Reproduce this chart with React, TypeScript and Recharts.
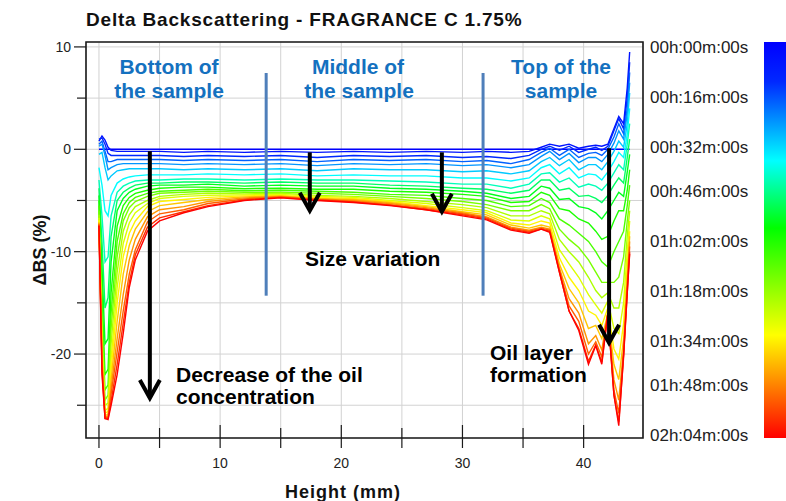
import { LineChart, Line, XAxis, YAxis, CartesianGrid, ReferenceLine, ReferenceArea } from 'recharts';

// sample height (mm) at which every profile is read
const heights = [
  0, 0.25, 0.5, 0.75, 1, 1.5, 2, 2.5, 3, 4,
  5, 7, 9, 12, 15, 18, 21, 24, 27, 30, 32, 34,
  35.5, 36.5, 37.2, 38, 38.8, 39.6, 40.4, 41, 41.5, 42, 42.5, 42.9, 43.3, 43.6, 43.8,
];

// delta backscattering (%) profiles, one per scan time
const t00 = [
  0, 0, 0, 0, 0, 0, 0, 0, 0, 0,
  0, 0, 0, 0, 0, 0, 0, 0, 0, 0, 0, 0,
  0, 0, 0, 0, 0, 0, 0, 0, 0, 0, 0, 0, 0, 0, 0,
];
const t06 = [
  0.8, 1.3, 0.9, 0.2, -0.1, -0.2, -0.2, -0.2, -0.2, -0.2,
  -0.2, -0.3, -0.2, -0.3, -0.2, -0.3, -0.2, -0.3, -0.2, -0.3, -0.2, -0.3,
  -0.2, 0.2, 0.5, 0.3, 0.5, 0.1, 0.3, 0.4, 0.3, 0.5, 2.0, 3.2, 2.5, 6.0, 9.5,
];
const t12 = [
  1.0, 1.1, 0.5, -0.4, -0.6, -0.6, -0.6, -0.6, -0.6, -0.6,
  -0.6, -0.7, -0.6, -0.7, -0.6, -0.8, -0.6, -0.7, -0.6, -0.8, -0.7, -0.9,
  -0.6, 0.0, 0.3, -0.1, 0.3, -0.3, 0.0, 0.2, -0.1, 0.3, 1.8, 3.0, 2.0, 5.0, 8.5,
];
const t19 = [
  0.5, 0.8, -0.2, -1.2, -1.2, -1.0, -1.0, -1.0, -1.0, -1.0,
  -1.0, -1.1, -1.0, -1.1, -1.0, -1.2, -1.0, -1.1, -1.0, -1.2, -1.1, -1.4,
  -1.0, -0.3, 0.1, -0.6, 0.0, -0.8, -0.4, -0.3, -0.6, 0.0, 1.2, 2.5, 1.5, 4.0, 7.5,
];
const t25 = [
  0.3, 0.5, -0.6, -2.0, -1.8, -1.5, -1.4, -1.4, -1.4, -1.4,
  -1.4, -1.5, -1.4, -1.5, -1.4, -1.6, -1.4, -1.5, -1.4, -1.6, -1.5, -1.8,
  -1.5, -0.7, -0.2, -1.0, -0.4, -1.3, -0.8, -0.8, -1.2, -0.5, 0.6, 1.8, 1.0, 3.5, 6.5,
];
const t31 = [
  -0.5, -0.3, -1.8, -3.0, -2.6, -2.1, -2.0, -1.9, -1.9, -1.9,
  -1.9, -2.0, -1.9, -2.0, -1.9, -2.1, -1.9, -2.0, -2.0, -2.2, -2.1, -2.4,
  -2.1, -1.2, -0.8, -1.6, -1.0, -2.0, -1.5, -1.5, -2.0, -1.2, -0.2, 0.8, 0.2, 2.5, 5.5,
];
const t37 = [
  -1.8, -3.5, -6.0, -6.5, -4.5, -3.3, -2.9, -2.7, -2.6, -2.5,
  -2.5, -2.5, -2.4, -2.5, -2.4, -2.6, -2.5, -2.6, -2.6, -2.8, -2.8, -3.1,
  -2.8, -1.8, -1.5, -2.4, -1.8, -2.8, -2.4, -2.5, -3.0, -2.2, -1.2, -0.3, -0.8, 1.5, 4.0,
];
const t43 = [
  -3.0, -6.5, -11.0, -10.5, -6.5, -4.2, -3.6, -3.3, -3.1, -3.0,
  -3.0, -2.9, -2.9, -3.0, -2.9, -3.0, -3.0, -3.1, -3.2, -3.4, -3.4, -3.8,
  -3.4, -2.4, -2.3, -3.2, -2.8, -3.7, -3.4, -3.6, -4.0, -3.3, -2.3, -1.5, -2.0, 0.5, 2.5,
];
const t50 = [
  -3.8, -9.0, -15.5, -14.5, -8.5, -5.0, -4.2, -3.8, -3.5, -3.3,
  -3.3, -3.2, -3.2, -3.3, -3.2, -3.3, -3.3, -3.5, -3.6, -3.8, -3.9, -4.3,
  -4.0, -3.0, -3.0, -4.0, -3.8, -4.6, -4.5, -4.8, -5.2, -4.5, -3.5, -2.8, -3.3, -0.8, 1.0,
];
const t56 = [
  -4.5, -11.5, -19.0, -18.5, -11.0, -6.0, -4.8, -4.2, -3.9, -3.6,
  -3.5, -3.5, -3.4, -3.6, -3.5, -3.6, -3.6, -3.8, -3.9, -4.1, -4.3, -4.8,
  -4.6, -3.6, -3.8, -4.9, -4.8, -5.6, -5.8, -6.2, -6.8, -6.0, -5.0, -4.2, -4.6, -2.2, -0.5,
];
const t62 = [
  -5.0, -14.0, -22.0, -21.5, -14.0, -7.5, -5.5, -4.7, -4.3, -4.0,
  -3.8, -3.7, -3.7, -3.85, -3.8, -3.9, -3.9, -4.1, -4.2, -4.4, -4.6, -5.2,
  -5.1, -4.2, -4.5, -5.8, -6.0, -6.8, -7.2, -8.0, -8.8, -8.5, -7.0, -6.0, -6.0, -4.0, -2.0,
];
const t68 = [
  -5.5, -16.0, -23.5, -23.0, -16.0, -9.0, -6.3, -5.2, -4.7, -4.3,
  -4.1, -4.0, -3.9, -4.05, -4.0, -4.1, -4.2, -4.4, -4.5, -4.8, -5.0, -5.6,
  -5.5, -4.8, -5.2, -6.8, -7.4, -8.2, -9.0, -10.0, -11.0, -11.5, -10.0, -9.0, -8.0, -5.5, -3.5,
];
const t74 = [
  -6.0, -17.5, -24.5, -24.0, -17.5, -10.5, -7.0, -5.7, -5.1, -4.6,
  -4.3, -4.2, -4.1, -4.2, -4.2, -4.3, -4.4, -4.6, -4.8, -5.1, -5.4, -6.0,
  -6.0, -5.4, -5.8, -7.8, -8.8, -9.6, -10.8, -12.0, -13.0, -13.0, -13.0, -12.5, -10.5, -7.0, -5.0,
];
const t81 = [
  -6.4, -18.5, -25.0, -24.8, -19.0, -12.0, -8.0, -6.4, -5.6, -5.0,
  -4.6, -4.4, -4.3, -4.35, -4.3, -4.5, -4.6, -4.8, -5.1, -5.4, -5.7, -6.5,
  -6.5, -6.0, -6.3, -8.8, -10.0, -11.0, -12.5, -13.8, -14.5, -14.0, -15.5, -15.5, -13.0, -8.5, -6.0,
];
const t87 = [
  -6.7, -19.0, -25.5, -25.3, -20.5, -13.5, -9.2, -7.2, -6.2, -5.3,
  -4.8, -4.6, -4.5, -4.45, -4.4, -4.6, -4.7, -5.0, -5.3, -5.7, -6.0, -6.9,
  -7.0, -6.5, -6.8, -9.8, -11.2, -12.5, -14.2, -15.2, -16.0, -14.8, -17.5, -18.0, -15.0, -10.0, -7.0,
];
const t93 = [
  -6.9, -19.5, -25.8, -25.6, -21.5, -15.0, -10.5, -8.2, -7.0, -5.6,
  -5.1, -4.9, -4.7, -4.55, -4.5, -4.7, -4.8, -5.1, -5.5, -5.9, -6.2, -7.2,
  -7.4, -7.0, -7.2, -10.6, -12.5, -13.8, -15.8, -16.2, -17.2, -15.5, -19.5, -20.5, -17.0, -11.5, -8.0,
];
const t99 = [
  -7.1, -20.0, -26.0, -25.9, -22.5, -16.8, -12.2, -9.4, -7.8, -6.1,
  -5.5, -5.2, -4.9, -4.65, -4.55, -4.8, -4.9, -5.2, -5.6, -6.1, -6.4, -7.4,
  -7.7, -7.4, -7.6, -11.2, -13.6, -15.0, -17.5, -17.2, -18.5, -16.0, -21.0, -22.5, -18.5, -12.5, -8.5,
];
const t105 = [
  -7.2, -20.5, -26.1, -26.1, -23.3, -18.5, -14.2, -10.8, -8.8, -6.6,
  -5.9, -5.6, -5.1, -4.75, -4.6, -4.85, -5.0, -5.3, -5.7, -6.2, -6.6, -7.6,
  -7.9, -7.6, -7.8, -11.6, -14.6, -16.0, -19.0, -18.2, -19.6, -16.0, -22.5, -24.5, -19.5, -13.0, -9.0,
];
const t112 = [
  -7.3, -21.0, -26.2, -26.2, -23.9, -19.8, -15.8, -12.2, -9.8, -7.1,
  -6.3, -5.9, -5.3, -4.85, -4.65, -4.9, -5.1, -5.4, -5.8, -6.3, -6.7, -7.7,
  -8.0, -7.7, -7.9, -11.8, -15.3, -16.8, -20.0, -18.8, -20.3, -16.0, -23.5, -25.8, -20.0, -13.5, -9.5,
];
const t118 = [
  -7.4, -21.5, -26.3, -26.3, -24.6, -21.0, -17.0, -13.0, -10.3, -7.6,
  -6.7, -6.1, -5.5, -4.95, -4.7, -4.95, -5.15, -5.45, -5.9, -6.4, -6.8, -7.8,
  -8.1, -7.8, -8.0, -12.0, -15.8, -17.5, -20.7, -19.1, -20.8, -16.0, -24.0, -26.6, -20.3, -14.0, -10.0,
];
const t124 = [
  -7.5, -22.0, -26.3, -26.4, -25.0, -22.0, -18.0, -13.5, -10.8, -8.0,
  -7.0, -6.2, -5.6, -5.0, -4.75, -5.0, -5.2, -5.5, -5.9, -6.5, -6.9, -7.9,
  -8.2, -7.8, -8.1, -12.0, -15.8, -17.7, -21.0, -19.2, -21.0, -16.0, -24.0, -27.0, -20.0, -14.0, -10.2,
];

const profiles = [t00, t06, t12, t19, t25, t31, t37, t43, t50, t56, t62, t68, t74, t81, t87, t93, t99, t105, t112, t118, t124];
// scan time of each profile, minutes
const scanMinutes = [0, 6, 12, 19, 25, 31, 37, 43, 50, 56, 62, 68, 74, 81, 87, 93, 99, 105, 112, 118, 124];

const heightTicks = [0, 5, 10, 15, 20, 25, 30, 35, 40];
const bsTicks = [-25, -20, -15, -10, -5, 0, 5, 10];
const timeTicks = [0, 16, 32, 46, 62, 78, 94, 108, 124];

const rows = heights.map((h, i) => {
  const r: { [key: string]: number } = { h };
  profiles.forEach((p, k) => { r['p' + k] = p[i]; });
  return r;
});

// colour scale of the time bar
const stops: [number, number[]][] = [
  [0, [0, 0, 255]],
  [0.1, [0, 40, 255]],
  [0.3, [0, 255, 255]],
  [0.47, [0, 255, 0]],
  [0.74, [255, 255, 0]],
  [1, [255, 0, 0]],
];

function colorAt(f: number) {
  for (let i = 1; i < stops.length; i++) {
    const [f1, c1] = stops[i];
    const [f0, c0] = stops[i - 1];
    if (f <= f1) {
      const u = (f - f0) / (f1 - f0);
      const c = c0.map((v, j) => Math.round(v + (c1[j] - v) * u));
      return `rgb(${c[0]},${c[1]},${c[2]})`;
    }
  }
  return 'rgb(255,0,0)';
}

const gradientCss = 'linear-gradient(to bottom, ' +
  stops.map(([f, c]) => `rgb(${c[0]},${c[1]},${c[2]}) ${f * 100}%`).join(', ') + ')';

const fmtTime = (m: number) =>
  `${String(Math.floor(m / 60)).padStart(2, '0')}h:${String(m % 60).padStart(2, '0')}m:00s`;

const INK = '#1a1a1a';
const NOTE_BLUE = '#1471bf';
const DIVIDER = '#4f7fba';

const XTick = (props: any) => {
  const { x, y, payload } = props;
  const major = payload.value % 10 === 0;
  return (
    <g>
      <line x1={x} x2={x} y1={y - (major ? 13 : 10)} y2={y + 10} stroke={INK} strokeWidth={1.2} />
      {major && (
        <text x={x} y={y + 30} textAnchor="middle" fontSize={14} fill="#222">{payload.value}</text>
      )}
    </g>
  );
};

const YTick = (props: any) => {
  const { x, y, payload } = props;
  const major = payload.value % 10 === 0;
  return (
    <g>
      <line x1={x - (major ? 12 : 9)} x2={x} y1={y} y2={y} stroke={INK} strokeWidth={1.2} />
      {major && (
        <text x={x - 15} y={y + 5} textAnchor="end" fontSize={14} fill="#222">{payload.value}</text>
      )}
    </g>
  );
};

const TimeTick = (props: any) => {
  const { x, y, payload } = props;
  return (
    <text x={x} y={y + 6} textAnchor="start" fontSize={17} fill="#222">{fmtTime(payload.value)}</text>
  );
};

const Arrow = (props: any) => {
  const { x1, y1, x2, y2 } = props;
  return (
    <g>
      <line x1={x1} y1={y1} x2={x2} y2={y2 - 2} stroke="#000" strokeWidth={4} />
      <polyline
        points={`${x2 - 10},${y2 - 18} ${x2},${y2} ${x2 + 10},${y2 - 18}`}
        fill="none"
        stroke="#000"
        strokeWidth={4}
      />
    </g>
  );
};

const noteStyle = { fontSize: 21, fontWeight: 700 as const };

export default function App() {
  return (
    <div
      style={{
        position: 'absolute',
        left: 0,
        top: 0,
        width: 786,
        height: 501,
        overflow: 'hidden',
        background: '#fff',
        fontFamily: "Arial, 'Liberation Sans', sans-serif",
      }}
    >
      <LineChart width={786} height={501} data={rows} margin={{ top: 42, right: 0, bottom: 0, left: 0 }}>
        <CartesianGrid stroke="#d2d2d2" strokeWidth={1} />
        <XAxis
          dataKey="h"
          type="number"
          domain={[-1.07, 44.9]}
          allowDataOverflow
          ticks={heightTicks}
          interval={0}
          height={63}
          tickSize={0}
          tickMargin={0}
          axisLine={false}
          tickLine={false}
          tick={<XTick />}
        />
        <YAxis
          type="number"
          domain={[-28.2, 10.48]}
          allowDataOverflow
          ticks={bsTicks}
          interval={0}
          width={86}
          tickSize={0}
          tickMargin={0}
          axisLine={false}
          tickLine={false}
          tick={<YTick />}
        />
        <YAxis
          yAxisId="time"
          orientation="right"
          type="number"
          reversed
          domain={[-1.6, 124.95]}
          allowDataOverflow
          ticks={timeTicks}
          interval={0}
          width={143}
          tickSize={0}
          tickMargin={7}
          axisLine={false}
          tickLine={false}
          tick={<TimeTick />}
        />
        {profiles.map((_, k) => (
          <Line
            key={k}
            type="linear"
            dataKey={'p' + k}
            stroke={colorAt(scanMinutes[k] / 124)}
            strokeWidth={1.4}
            dot={false}
            isAnimationActive={false}
          />
        ))}
        <Line
          yAxisId="time"
          dataKey="timeAxisAnchor"
          stroke="none"
          dot={false}
          legendType="none"
          isAnimationActive={false}
        />
        <ReferenceArea x1={-1.07} x2={44.9} y1={-28.2} y2={10.48} fill="none" stroke={INK} strokeWidth={1.6} />
        <ReferenceLine segment={[{ x: 13.8, y: 7.45 }, { x: 13.8, y: -14.3 }]} stroke={DIVIDER} strokeWidth={3} />
        <ReferenceLine segment={[{ x: 31.7, y: 7.45 }, { x: 31.7, y: -14.3 }]} stroke={DIVIDER} strokeWidth={3} />
        <ReferenceLine segment={[{ x: 4.2, y: -0.2 }, { x: 4.2, y: -24.3 }]} shape={<Arrow />} />
        <ReferenceLine segment={[{ x: 17.4, y: -0.3 }, { x: 17.4, y: -6.0 }]} shape={<Arrow />} />
        <ReferenceLine segment={[{ x: 28.3, y: -0.3 }, { x: 28.3, y: -6.1 }]} shape={<Arrow />} />
        <ReferenceLine segment={[{ x: 42.1, y: 0.1 }, { x: 42.1, y: -18.9 }]} shape={<Arrow />} />
      </LineChart>

      <div
        style={{
          position: 'absolute',
          left: 764,
          top: 42,
          width: 30,
          height: 396,
          background: gradientCss,
        }}
      />

      <svg
        width={786}
        height={501}
        style={{ position: 'absolute', left: 0, top: 0, pointerEvents: 'none' }}
      >
        <text x={86} y={26} fontSize={19} fontWeight={700} letterSpacing={0.8} fill="#111">
          Delta Backscattering - FRAGRANCE C 1.75%
        </text>
        <text
          transform="translate(46,250) rotate(-90)"
          textAnchor="middle"
          fontSize={18}
          fontWeight={700}
          fill="#111"
        >
          ΔBS (%)
        </text>
        <text x={343} y={498} textAnchor="middle" fontSize={18} fontWeight={700} letterSpacing={1} fill="#111">
          Height (mm)
        </text>

        <g fill={NOTE_BLUE} textAnchor="middle" style={noteStyle}>
          <text x={169} y={74}>Bottom of</text>
          <text x={169} y={98}>the sample</text>
          <text x={358} y={74}>Middle of</text>
          <text x={359} y={98}>the sample</text>
          <text x={561} y={74}>Top of the</text>
          <text x={561} y={98}>sample</text>
        </g>

        <g fill="#000" style={noteStyle}>
          <text x={305} y={266}>Size variation</text>
          <text x={176} y={382}>Decrease of the oil</text>
          <text x={176} y={404}>concentration</text>
          <text x={490} y={360}>Oil layer</text>
          <text x={490} y={382}>formation</text>
        </g>
      </svg>
    </div>
  );
}
